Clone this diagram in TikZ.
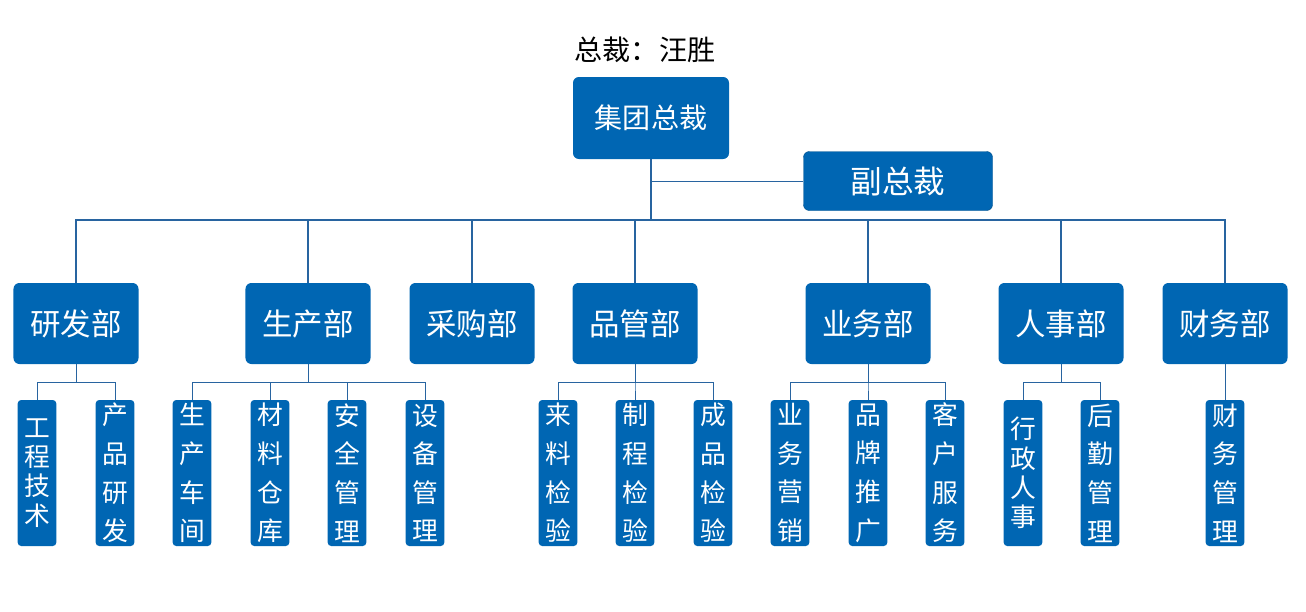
\documentclass[tikz,border=0pt]{standalone}
\usepackage{fontspec}
\setmainfont{Noto Sans CJK SC}
\usepackage{tikz}
\definecolor{boxblue}{RGB}{0,102,179}
\definecolor{lineblue}{RGB}{40,100,160}

\begin{document}
\begin{tikzpicture}[x=0.03cm,y=-0.03cm,thin]
                \tikzset{box/.style={fill=boxblue, text=white, rounded corners=5pt, inner sep=0pt},
                         dept/.style={box, minimum width=3.75cm, minimum height=2.43cm, font=\fontsize{26}{30}\selectfont},
                         sub/.style={box, rounded corners=3pt, minimum width=1.16cm, minimum height=4.38cm, align=center, font=\fontsize{22}{33}\selectfont},
                         subtight/.style={sub, font=\fontsize{22}{25}\selectfont},
                         link/.style={draw=lineblue, line width=0.6pt},
                         trunk/.style={draw=lineblue, line width=1pt}}
                \useasboundingbox (0,0) rectangle (1306,612);
                \node[font=\fontsize{24}{28}\selectfont] (title) at (645,50) {总裁：汪胜};
                \node[box, minimum width=4.68cm, minimum height=2.46cm, font=\fontsize{24}{28}\selectfont] (ceo) at (651,118) {集团总裁};
                \node[box, draw=boxblue!80!black, minimum width=5.67cm, minimum height=1.77cm, font=\fontsize{27}{30}\selectfont] (vp) at (898,181) {副总裁};
                \coordinate (bus) at (651,220);
                % departments
                \node[dept] (rd) at (76,323.5) {研发部};
                \node[dept] (prod) at (308,323.5) {生产部};
                \node[dept] (buy) at (472,323.5) {采购部};
                \node[dept] (qc) at (635,323.5) {品管部};
                \node[dept] (sales) at (868,323.5) {业务部};
                \node[dept] (hr) at (1061,323.5) {人事部};
                \node[dept] (fin) at (1225,323.5) {财务部};
                % sections
                \node[subtight] (rd1) at (37,473) {工\\程\\技\\术};
                \node[sub] (rd2) at (115,473) {产\\品\\研\\发};
                \node[sub] (prod1) at (192,473) {生\\产\\车\\间};
                \node[sub] (prod2) at (270,473) {材\\料\\仓\\库};
                \node[sub] (prod3) at (347,473) {安\\全\\管\\理};
                \node[sub] (prod4) at (425,473) {设\\备\\管\\理};
                \node[sub] (qc1) at (558,473) {来\\料\\检\\验};
                \node[sub] (qc2) at (635,473) {制\\程\\检\\验};
                \node[sub] (qc3) at (713,473) {成\\品\\检\\验};
                \node[sub] (sales1) at (790,473) {业\\务\\营\\销};
                \node[sub] (sales2) at (868,473) {品\\牌\\推\\广};
                \node[sub] (sales3) at (945,473) {客\\户\\服\\务};
                \node[subtight] (hr1) at (1023,473) {行\\政\\人\\事};
                \node[sub] (hr2) at (1100,473) {后\\勤\\管\\理};
                \node[sub] (fin1) at (1225,473) {财\\务\\管\\理};
                % top links
                \draw[trunk] (ceo.south) -- (bus);
                \draw[link] (vp.west) -- (vp.west -| ceo.south);
                \draw[trunk] (rd.north) |- (bus);
                \draw[trunk] (prod.north) |- (bus);
                \draw[trunk] (buy.north) |- (bus);
                \draw[trunk] (qc.north) |- (bus);
                \draw[trunk] (sales.north) |- (bus);
                \draw[trunk] (hr.north) |- (bus);
                \draw[trunk] (fin.north) |- (bus);
                % section links
                \draw[link] (rd.south) -- ++(0,18) -| (rd1.north);
                \draw[link] (rd.south) -- ++(0,18) -| (rd2.north);
                \draw[link] (prod.south) -- ++(0,18) -| (prod1.north);
                \draw[link] (prod.south) -- ++(0,18) -| (prod2.north);
                \draw[link] (prod.south) -- ++(0,18) -| (prod3.north);
                \draw[link] (prod.south) -- ++(0,18) -| (prod4.north);
                \draw[link] (qc.south) -- ++(0,18) -| (qc1.north);
                \draw[link] (qc.south) -- ++(0,18) -| (qc2.north);
                \draw[link] (qc.south) -- ++(0,18) -| (qc3.north);
                \draw[link] (sales.south) -- ++(0,18) -| (sales1.north);
                \draw[link] (sales.south) -- ++(0,18) -| (sales2.north);
                \draw[link] (sales.south) -- ++(0,18) -| (sales3.north);
                \draw[link] (hr.south) -- ++(0,18) -| (hr1.north);
                \draw[link] (hr.south) -- ++(0,18) -| (hr2.north);
                \draw[link] (fin.south) -- (fin1.north);
            \end{tikzpicture}
\end{document}
